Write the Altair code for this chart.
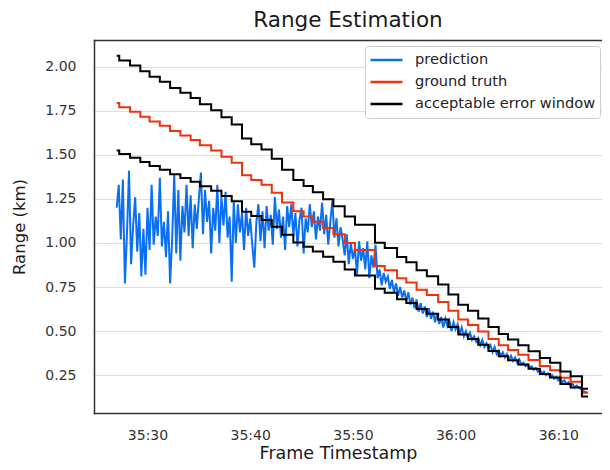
import altair as alt
import pandas as pd

# ---------------- data (seconds after 35:00) ----------------
MINUTE_BASE = 35 * 60

# ground-truth step changes: time (s after 35:00) and range (km)
gt_t = [27.0, 27.25, 28.3, 29.3, 30.2, 31.2, 32.2, 33.2, 34.2, 35.1,
        36.2, 37.2, 38.2, 39.2, 40.1, 41.1, 42.1, 43.1, 44.2, 45.2,
        46.1, 47.1, 48.1, 49.2, 50.2, 52.15, 53.1, 54.3, 55.2, 56.2,
        57.2, 58.3, 59.3, 60.26, 61.2, 62.2, 63.2, 64.2, 65.1, 66.1,
        67.1, 68.2, 69.2, 70.2, 71.2, 72.3, 72.9]
gt_v = [1.794, 1.770, 1.745, 1.717, 1.690, 1.665, 1.635, 1.610, 1.585, 1.555,
        1.525, 1.490, 1.455, 1.385, 1.357, 1.330, 1.285, 1.230, 1.180, 1.150,
        1.120, 1.085, 1.050, 1.000, 0.960, 0.870, 0.845, 0.800, 0.775, 0.735,
        0.705, 0.665, 0.615, 0.565, 0.535, 0.497, 0.455, 0.420, 0.393, 0.365,
        0.336, 0.302, 0.278, 0.235, 0.212, 0.150, 0.150]
upper_v = [2.063, 2.036, 2.007, 1.975, 1.944, 1.915, 1.880, 1.852, 1.823, 1.788,
           1.754, 1.714, 1.673, 1.593, 1.561, 1.530, 1.478, 1.415, 1.357, 1.323,
           1.288, 1.248, 1.208, 1.150, 1.104, 1.001, 0.972, 0.920, 0.891, 0.845,
           0.811, 0.765, 0.707, 0.650, 0.615, 0.572, 0.523, 0.483, 0.452, 0.420,
           0.386, 0.347, 0.320, 0.270, 0.244, 0.173, 0.173]
lower_v = [1.525, 1.505, 1.483, 1.459, 1.437, 1.415, 1.390, 1.369, 1.347, 1.322,
           1.296, 1.267, 1.237, 1.177, 1.153, 1.131, 1.092, 1.046, 1.003, 0.978,
           0.952, 0.922, 0.893, 0.850, 0.816, 0.740, 0.718, 0.680, 0.659, 0.625,
           0.599, 0.565, 0.523, 0.480, 0.455, 0.422, 0.387, 0.357, 0.334, 0.310,
           0.286, 0.257, 0.236, 0.200, 0.180, 0.128, 0.128]

# prediction sampled every 0.2 s from 27.0 s
pred_start = 27.0
pred_dt = 0.2
pred_v = [
    1.20, 1.33, 1.02, 1.36, 0.77,
    1.05, 1.41, 0.88, 1.10, 1.26,
    0.95, 1.17, 0.81, 1.08, 0.82,
    1.20, 0.96, 1.33, 0.99, 1.15,
    1.04, 1.37, 0.98, 1.12, 0.92,
    1.18, 0.77, 1.02, 1.39, 0.94,
    1.30, 0.90, 1.21, 1.06, 1.33,
    1.04, 1.27, 0.97, 1.22, 1.08,
    1.25, 1.40, 1.05, 1.30, 1.12,
    1.24, 0.94, 1.20, 1.07, 1.33,
    1.00, 1.26, 1.10, 1.29, 1.03,
    1.15, 0.78, 1.24, 1.00, 1.22,
    1.06, 1.17, 0.96, 1.20, 1.04,
    1.14, 0.99, 0.86, 1.12, 1.22,
    1.01, 1.18, 0.97, 1.21, 1.07,
    1.16, 0.99, 1.26, 1.08, 1.19,
    1.03, 1.15, 0.96, 1.21, 1.09,
    1.22, 1.04, 1.17, 0.98, 1.13,
    1.20, 0.94, 1.14, 1.06, 1.22,
    1.09, 1.18, 1.02, 1.15, 1.07,
    1.23, 1.05, 1.16, 0.99, 1.12,
    1.24, 1.03, 1.14, 0.98, 1.09,
    1.02, 0.93, 1.05, 0.88, 1.00,
    0.91, 0.97, 0.82, 1.01, 0.90,
    0.97, 0.85, 1.01, 0.80, 0.93,
    0.86, 0.99, 0.80, 0.85, 0.76,
    0.83, 0.78, 0.81, 0.74, 0.79,
    0.72, 0.77, 0.70, 0.75, 0.69,
    0.73, 0.67, 0.72, 0.65, 0.69,
    0.63, 0.68, 0.61, 0.66, 0.60,
    0.64, 0.58, 0.63, 0.57, 0.61,
    0.55, 0.60, 0.54, 0.58, 0.52,
    0.57, 0.53, 0.56, 0.50, 0.55,
    0.51, 0.54, 0.48, 0.52, 0.47,
    0.50, 0.46, 0.49, 0.45, 0.47,
    0.44, 0.46, 0.42, 0.45, 0.41,
    0.43, 0.40, 0.42, 0.38, 0.41,
    0.37, 0.39, 0.36, 0.38, 0.35,
    0.37, 0.34, 0.36, 0.33, 0.35,
    0.32, 0.34, 0.31, 0.32, 0.30,
    0.31, 0.29, 0.30, 0.28, 0.29,
    0.27, 0.28, 0.26, 0.27, 0.25,
    0.26, 0.24, 0.25, 0.23, 0.24,
    0.22, 0.23, 0.21, 0.22, 0.20,
    0.21, 0.19, 0.20, 0.18, 0.19,
    0.18, 0.17, 0.16, 0.155, 0.15,
]

series_names = ["prediction", "ground truth", "acceptable error window"]
series_colors = ["#0b6ff2", "#f2300c", "#000000"]
x_ticks = [2130, 2140, 2150, 2160, 2170]
y_ticks = [0.25, 0.50, 0.75, 1.00, 1.25, 1.50, 1.75, 2.00]

# ---------------- table ----------------
rows = []
for i, v in enumerate(pred_v):
    rows.append({"t": MINUTE_BASE + round(pred_start + i * pred_dt, 2), "v": v,
                 "series": "prediction", "line": "pred"})
for t, v in zip(gt_t, gt_v):
    rows.append({"t": MINUTE_BASE + t, "v": v, "series": "ground truth", "line": "gt"})
for t, v in zip(gt_t, upper_v):
    rows.append({"t": MINUTE_BASE + t, "v": v, "series": "acceptable error window", "line": "upper"})
for t, v in zip(gt_t, lower_v):
    rows.append({"t": MINUTE_BASE + t, "v": v, "series": "acceptable error window", "line": "lower"})
df = pd.DataFrame(rows)

FONT = "DejaVu Sans"
FRAME = "#333333"
x_scale = alt.Scale(domain=[2124.79, 2174.255], nice=False, zero=False)

x_bottom = alt.X(
    "t:Q",
    scale=x_scale,
    axis=alt.Axis(
        values=x_ticks,
        labelExpr="floor(datum.value / 60) + ':' + (datum.value % 60 < 10 ? '0' : '') + (datum.value % 60)",
        title="Frame Timestamp",
        grid=False,
        ticks=False,
        domain=True,
        domainColor=FRAME,
        domainWidth=1.5,
        domainCap="square",
        labelPadding=15,
        labelFontSize=14,
        labelColor="#333333",
        labelFont=FONT,
        titleFont=FONT,
        titleFontSize=17.5,
        titleFontWeight="normal",
        titleColor="#1a1a1a",
        titleX=244,
        titleY=45.5,
        titleAlign="center",
        titleBaseline="alphabetic",
    ),
)
x_top = alt.X(
    "t:Q",
    scale=x_scale,
    axis=alt.Axis(
        orient="top",
        labels=False,
        ticks=False,
        grid=False,
        domain=True,
        domainColor=FRAME,
        domainWidth=1.5,
        domainCap="square",
        title=None,
    ),
)
x_none = alt.X("t:Q", scale=x_scale, axis=None)

y_enc = alt.Y(
    "v:Q",
    scale=alt.Scale(domain=[0.035, 2.152], nice=False, zero=False),
    axis=alt.Axis(
        values=y_ticks,
        format=".2f",
        title="Range (km)",
        grid=True,
        gridColor="#dedede",
        gridWidth=1,
        ticks=False,
        domain=True,
        domainColor=FRAME,
        domainWidth=1.5,
        domainCap="square",
        labelPadding=18,
        labelFontSize=14,
        labelColor="#333333",
        labelFont=FONT,
        titleFont=FONT,
        titleFontSize=16.5,
        titleFontWeight="normal",
        titleColor="#1a1a1a",
        titlePadding=17,
    ),
)
color_enc = alt.Color(
    "series:N",
    scale=alt.Scale(domain=series_names, range=series_colors),
    legend=alt.Legend(
        title=None,
        orient="none",
        legendX=271,
        legendY=6,
        symbolType="stroke",
        symbolSize=1024,
        symbolStrokeWidth=2.5,
        clipHeight=20,
        labelFontSize=14.6,
        labelFont=FONT,
        labelColor="#222222",
        labelOffset=11,
        labelLimit=300,
        rowPadding=2,
        padding=4,
        fillColor="white",
        strokeColor="#cccccc",
        cornerRadius=3,
    ),
)

base = alt.Chart(df).encode(y=y_enc, color=color_enc, detail="line:N")

pred_layer = base.transform_filter(alt.datum.series == "prediction").mark_line(
    strokeWidth=2).encode(x=x_bottom)
gt_layer = base.transform_filter(alt.datum.series == "ground truth").mark_line(
    strokeWidth=2, interpolate="step-after").encode(x=x_top)
win_layer = base.transform_filter(alt.datum.series == "acceptable error window").mark_line(
    strokeWidth=2, interpolate="step-after").encode(x=x_none)

chart = (
    alt.layer(pred_layer, gt_layer, win_layer)
    .resolve_axis(x="independent")
    .properties(
        width=508,
        height=373,
        background="white",
        autosize=alt.AutoSizeParams(type="none"),
        padding={"left": 86, "top": 32, "right": 0, "bottom": 49},
        title=alt.Title(
            "Range Estimation",
            font=FONT,
            fontSize=21.5,
            fontWeight="normal",
            color="#1a1a1a",
            anchor="middle",
            frame="group",
            baseline="alphabetic",
            offset=13,
            dy=21,
        ),
    )
    .configure_view(stroke=None)
)

chart.save("out.html", embed_options={"renderer": "svg", "actions": False})
